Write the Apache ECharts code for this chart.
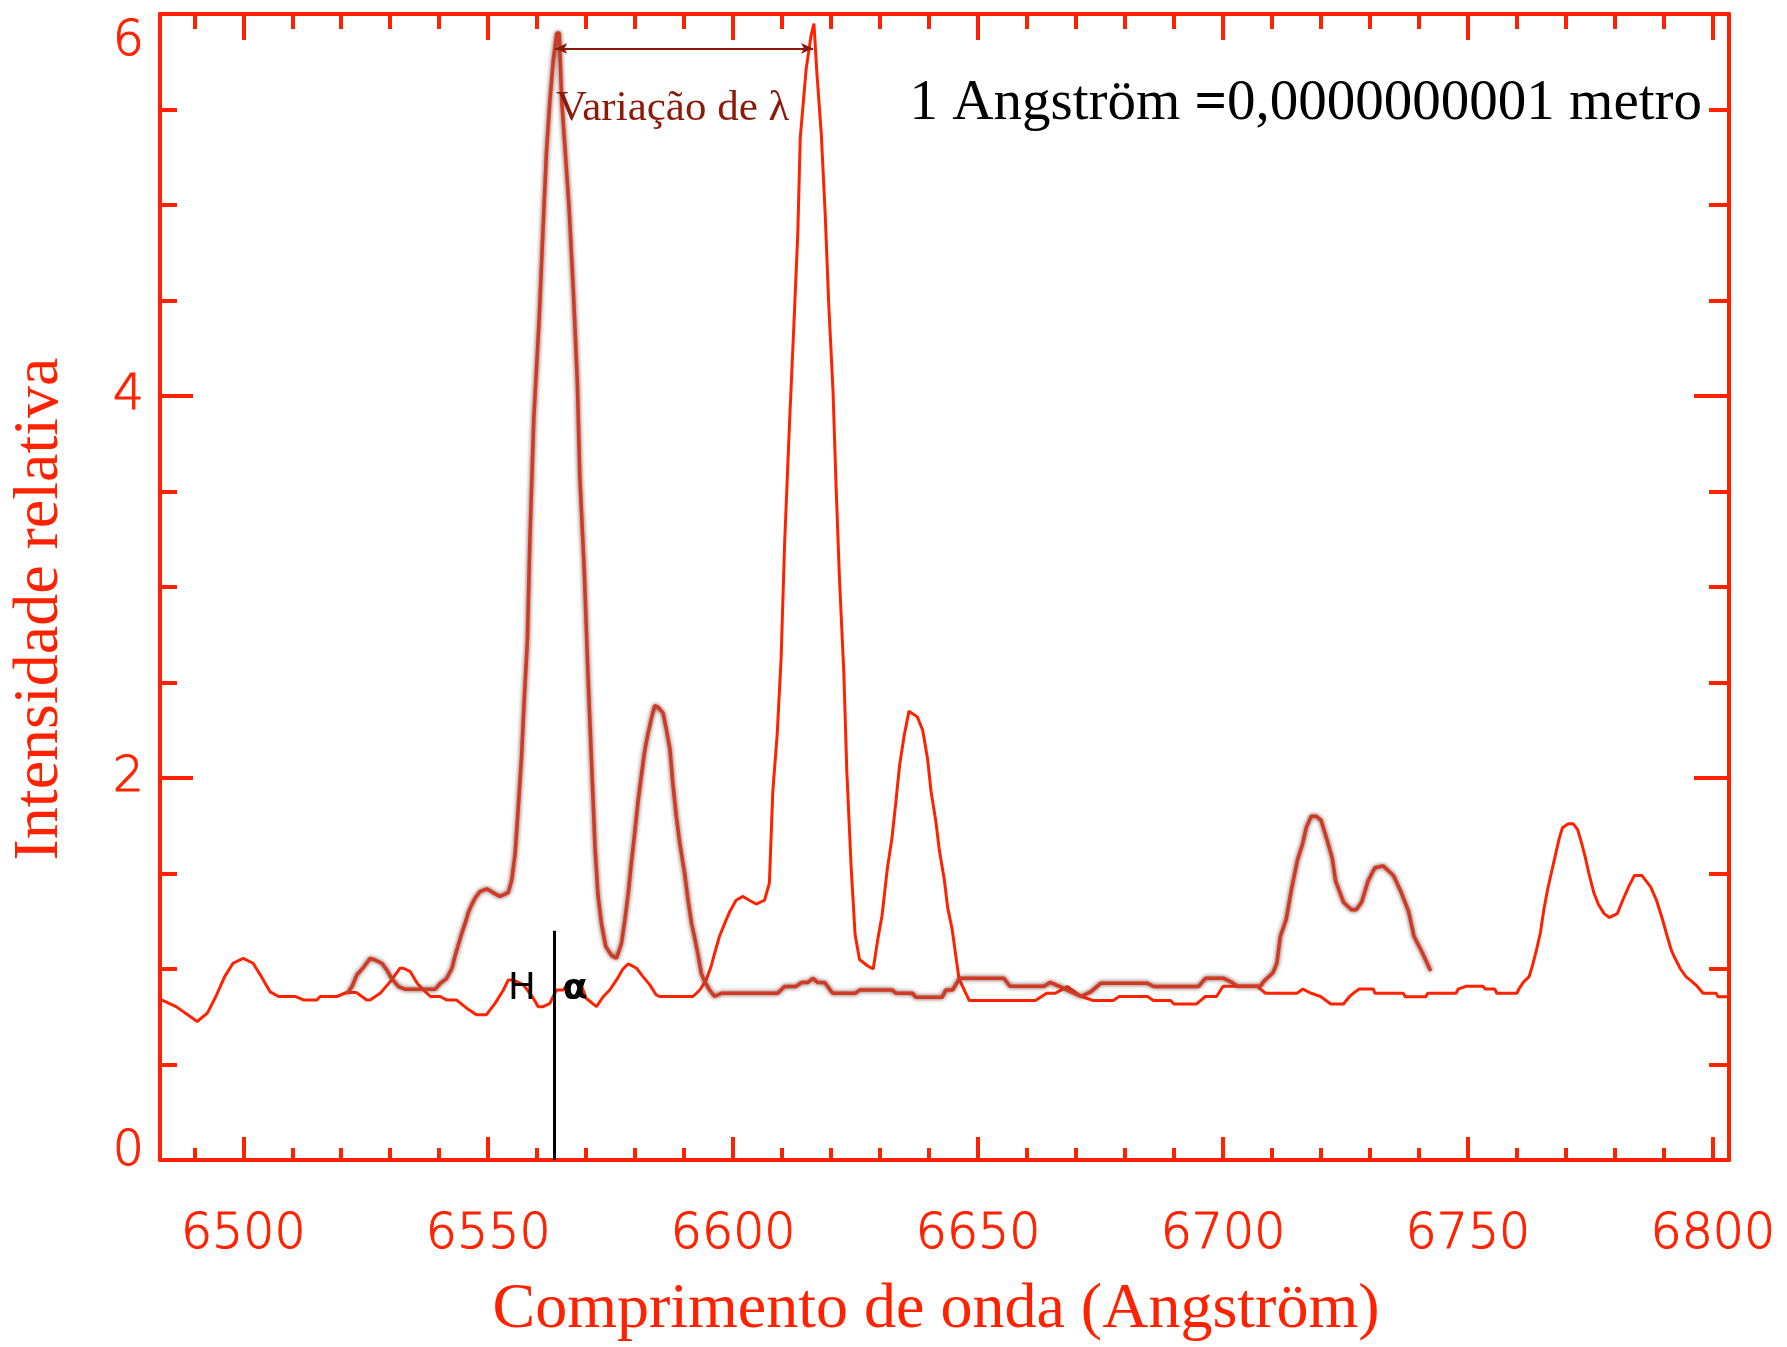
<!DOCTYPE html>
<html><head><meta charset="utf-8">
<script src="https://cdn.jsdelivr.net/npm/echarts@6/dist/echarts.min.js"></script>
<style>html,body{margin:0;padding:0;background:#fff}#c{width:1787px;height:1347px}</style>
</head><body><div id="c"></div>
<script>
// ---- data (wavelength in Angström, relative intensity) ----
const restLambda = [6521.2,6522.2,6523.2,6524.6,6525.9,6526.9,6528.3,6529.3,6530.3,6531.7,6533.0,6539.2,6540.2,6541.5,6542.6,6543.2,6543.9,6544.6,6545.3,6546.0,6546.6,6547.3,6548.3,6549.7,6551.0,6552.4,6554.1,6554.8,6555.5,6556.1,6556.8,6557.4,6558.0,6558.5,6559.3,6560.4,6561.2,6561.9,6562.6,6563.3,6564.0,6564.5,6565.0,6566.5,6567.4,6568.2,6568.7,6569.6,6570.4,6571.1,6571.8,6572.4,6573.1,6574.0,6575.2,6576.2,6576.5,6577.2,6577.9,6578.6,6579.2,6579.9,6580.6,6581.3,6582.0,6582.6,6583.3,6584.0,6584.7,6585.7,6586.4,6587.1,6587.7,6588.4,6589.1,6590.1,6590.8,6591.5,6592.1,6592.8,6593.5,6594.2,6595.2,6596.2,6597.6,6609.1,6610.5,6612.8,6613.9,6615.2,6616.3,6617.3,6618.7,6620.3,6625.0,6625.8,6632.5,6633.2,6636.6,6637.3,6642.7,6643.4,6644.8,6646.2,6655.3,6656.5,6663.5,6664.7,6666.5,6669.0,6671.0,6673.0,6675.0,6684.6,6685.8,6695.0,6696.4,6700.2,6701.8,6703.0,6707.7,6708.3,6710.2,6711.0,6711.7,6712.9,6714.0,6715.2,6716.3,6717.0,6718.0,6719.0,6720.0,6721.2,6722.3,6723.0,6724.6,6726.2,6727.2,6728.3,6729.6,6731.0,6732.7,6734.8,6736.4,6737.9,6739.0,6740.6,6742.4];
const restIntensity = [0.87,0.908,0.97,1.01,1.056,1.047,1.03,0.995,0.95,0.908,0.894,0.894,0.925,0.95,1.004,1.065,1.126,1.187,1.24,1.30,1.335,1.37,1.405,1.42,1.40,1.38,1.40,1.466,1.605,1.83,2.11,2.43,2.72,3.24,3.88,4.40,4.88,5.28,5.55,5.76,5.90,5.90,5.55,4.99,4.54,4.07,3.58,3.09,2.52,2.08,1.64,1.39,1.24,1.117,1.07,1.056,1.065,1.134,1.257,1.40,1.55,1.71,1.88,2.02,2.15,2.23,2.31,2.38,2.37,2.34,2.25,2.15,1.97,1.80,1.66,1.50,1.36,1.24,1.17,1.08,0.977,0.934,0.89,0.856,0.873,0.873,0.908,0.908,0.929,0.929,0.951,0.929,0.929,0.873,0.873,0.89,0.89,0.873,0.873,0.852,0.852,0.89,0.89,0.951,0.951,0.91,0.91,0.93,0.91,0.88,0.856,0.88,0.925,0.925,0.908,0.908,0.951,0.951,0.93,0.91,0.91,0.935,0.98,1.03,1.17,1.26,1.42,1.57,1.66,1.74,1.80,1.80,1.78,1.68,1.58,1.46,1.35,1.31,1.31,1.35,1.46,1.53,1.54,1.49,1.40,1.30,1.17,1.09,0.99];

const shiftedLambda = [6483.3,6486.3,6490.6,6492.7,6494.4,6496.2,6497.9,6500.0,6502.0,6503.7,6505.5,6507.2,6510.7,6512.3,6515.0,6515.7,6519.1,6521.1,6523.1,6525.2,6525.9,6528.0,6530.0,6532.0,6532.7,6534.1,6535.5,6536.8,6538.2,6540.2,6541.5,6543.5,6545.6,6547.6,6549.6,6551.4,6553.1,6554.1,6555.1,6557.2,6559.2,6560.2,6561.2,6562.6,6563.9,6565.3,6566.7,6568.7,6570.0,6572.1,6573.5,6574.8,6576.2,6577.5,6578.6,6580.3,6581.6,6583.0,6584.3,6585.0,6591.8,6593.2,6594.5,6595.5,6596.2,6597.2,6598.3,6599.3,6600.6,6602.0,6603.3,6604.7,6606.4,6607.4,6608.1,6609.0,6609.8,6610.5,6611.5,6612.4,6613.2,6613.7,6614.9,6615.9,6616.5,6617.1,6618.0,6618.8,6619.5,6620.4,6621.0,6621.7,6622.6,6623.2,6624.1,6624.9,6625.8,6627.5,6628.6,6629.5,6630.4,6631.5,6632.4,6633.2,6634.0,6634.9,6635.9,6637.6,6638.7,6639.7,6640.4,6641.4,6642.1,6643.1,6643.8,6644.7,6645.4,6646.1,6648.2,6661.7,6664.0,6665.8,6668.2,6671.1,6673.5,6677.6,6678.8,6684.6,6685.8,6689.3,6690.0,6694.6,6696.4,6698.7,6700.0,6706.9,6708.7,6715.1,6716.3,6718.0,6720.0,6722.0,6724.6,6725.8,6726.6,6727.8,6730.7,6731.0,6736.8,6737.2,6741.4,6741.8,6747.6,6748.0,6749.7,6753.0,6753.6,6755.5,6755.9,6760.0,6760.4,6761.3,6762.5,6763.2,6764.0,6764.8,6765.5,6766.3,6767.0,6767.8,6768.6,6769.3,6770.5,6771.5,6772.4,6773.2,6774.0,6774.7,6775.7,6776.6,6777.8,6778.9,6780.5,6781.6,6782.8,6784.0,6785.5,6787.3,6788.5,6789.6,6790.7,6791.5,6792.2,6793.4,6794.5,6795.7,6796.8,6798.0,6800.7,6801.0,6803.3];
const shiftedIntensity = [0.838,0.803,0.725,0.77,0.856,0.96,1.03,1.056,1.03,0.96,0.88,0.856,0.856,0.838,0.838,0.856,0.856,0.877,0.877,0.838,0.838,0.874,0.934,1.004,1.004,0.986,0.925,0.89,0.856,0.856,0.838,0.838,0.795,0.76,0.76,0.82,0.89,0.943,0.943,0.917,0.847,0.803,0.803,0.82,0.89,0.89,0.934,0.934,0.847,0.803,0.856,0.89,0.943,1.0,1.027,1.004,0.96,0.917,0.864,0.856,0.856,0.89,0.943,1.013,1.08,1.17,1.24,1.30,1.36,1.38,1.36,1.34,1.36,1.45,1.93,2.23,2.63,3.22,3.85,4.37,4.85,5.35,5.71,5.885,5.95,5.69,5.37,4.95,4.49,4.02,3.54,3.05,2.55,2.04,1.53,1.18,1.05,1.016,1.0,1.15,1.28,1.53,1.68,1.87,2.07,2.22,2.35,2.32,2.25,2.10,1.93,1.77,1.62,1.47,1.32,1.21,1.08,0.95,0.835,0.835,0.873,0.873,0.908,0.856,0.835,0.835,0.856,0.856,0.835,0.835,0.817,0.817,0.856,0.856,0.91,0.91,0.873,0.873,0.895,0.873,0.855,0.817,0.817,0.855,0.873,0.895,0.895,0.873,0.873,0.855,0.855,0.873,0.873,0.895,0.91,0.91,0.895,0.895,0.873,0.873,0.895,0.93,0.96,1.02,1.10,1.19,1.31,1.42,1.50,1.59,1.68,1.74,1.76,1.76,1.73,1.66,1.58,1.50,1.40,1.34,1.29,1.27,1.29,1.36,1.43,1.49,1.49,1.43,1.36,1.27,1.17,1.10,1.06,1.00,0.96,0.935,0.91,0.873,0.873,0.855,0.855];

const xMajorTicks = [6500,6550,6600,6650,6700,6750,6800];
const xMinorTicks = [6490,6510,6520,6530,6540,6560,6570,6580,6590,6610,6620,6630,6640,6660,6670,6680,6690,6710,6720,6730,6740,6760,6770,6780,6790];
const xRange = [6483, 6803.3];
const yRange = [0, 6];
const yLabelStep = 2;
const hAlphaLambda = 6563.4;
const hAlphaTop = 1.2;
const shiftFrom = 6563.7, shiftTo = 6616.3, shiftLevel = 5.82;

// ---- styling ----
const RED = '#ff2200';
const DARKRED = '#8b1a0a';
const TICKFONT = 'DejaVu Sans';
const TICKWEIGHT = 200;
const SERIF = '"Liberation Serif", "Times New Roman", serif';

function xAxisDef(position, ticks, tickLen, showLine, showLabel) {
  return {
    type: 'value', position: position, min: xRange[0], max: xRange[1],
    axisLine: { show: showLine, lineStyle: { color: RED, width: 4 } },
    axisTick: { show: true, inside: true, length: tickLen, customValues: ticks,
                lineStyle: { color: RED, width: 4 } },
    axisLabel: showLabel ? { show: true, customValues: ticks, color: RED,
                fontFamily: TICKFONT, fontWeight: TICKWEIGHT, fontSize: 49, margin: 51,
                textBorderColor: RED, textBorderWidth: 1,
                formatter: v => String(v) } : { show: false },
    splitLine: { show: false }
  };
}
function yAxisDef(position, majorLen, minorLen, showLabel) {
  const rs = { color: RED, fontFamily: TICKFONT, fontWeight: TICKWEIGHT, fontSize: 49,
               textBorderColor: RED, textBorderWidth: 1 };
  return {
    type: 'value', position: position, min: yRange[0], max: yRange[1], interval: yLabelStep,
    axisLine: { show: true, lineStyle: { color: RED, width: 4 } },
    axisTick: { show: true, inside: true, length: majorLen, lineStyle: { color: RED, width: 4 } },
    minorTick: { show: true, splitNumber: 4, length: minorLen, lineStyle: { color: RED, width: 4 } },
    axisLabel: showLabel ? {
      show: true, margin: 16, color: RED, fontFamily: TICKFONT, fontWeight: TICKWEIGHT, fontSize: 49,
      textBorderColor: RED, textBorderWidth: 1,
      formatter: v => v === yRange[1] ? '{t|' + v + '}' : (v === yRange[0] ? '{b|' + v + '}' : '{n|' + v + '}'),
      rich: {
        t: Object.assign({ padding: [56, 0, 0, 0] }, rs),
        b: Object.assign({ padding: [0, 0, 15, 0] }, rs),
        n: Object.assign({}, rs)
      }
    } : { show: false },
    splitLine: { show: false },
    minorSplitLine: { show: false }
  };
}

const chart = echarts.init(document.getElementById('c'), null, { renderer: 'canvas' });
const xAxes = [
  xAxisDef('bottom', xMajorTicks, 23, true, true),
  xAxisDef('bottom', xMinorTicks, 12, false, false),
  xAxisDef('top', xMajorTicks, 26, true, false),
  xAxisDef('top', xMinorTicks, 15, false, false)
];
xAxes[0].name = 'Comprimento de onda (Angström)';
xAxes[0].nameLocation = 'middle';
xAxes[0].nameGap = 150;
xAxes[0].nameTextStyle = { color: RED, fontFamily: SERIF, fontSize: 64, verticalAlign: 'middle', padding: [0, 17, 0, 0] };

const yAxes = [ yAxisDef('left', 33, 17, true), yAxisDef('right', 35, 20, false) ];
yAxes[0].name = 'Intensidade relativa';
yAxes[0].nameLocation = 'middle';
yAxes[0].nameGap = 120;
yAxes[0].nameTextStyle = { color: RED, fontFamily: SERIF, fontSize: 64, verticalAlign: 'middle', padding: [0, 44, 0, 0] };

const option = {
  animation: false,
  backgroundColor: '#ffffff',
  grid: { left: 156, top: 14, width: 1573, height: 1150, containLabel: false },
  xAxis: xAxes,
  yAxis: yAxes,
  series: [
    {
      name: 'deslocado', type: 'line', xAxisIndex: 0, yAxisIndex: 0,
      data: shiftedLambda.map((x, i) => [x, shiftedIntensity[i]]),
      showSymbol: false, smooth: false, z: 3,
      lineStyle: { color: RED, width: 3 }
    },
    {
      name: 'repouso', type: 'line', xAxisIndex: 0, yAxisIndex: 0,
      data: restLambda.map((x, i) => [x, restIntensity[i]]),
      showSymbol: false, smooth: false, z: 4,
      lineStyle: { color: '#d03a22', width: 3.5, shadowColor: 'rgba(110,70,65,1)', shadowBlur: 4 },
      markLine: {
        silent: true, animation: false, symbol: ['none', 'none'],
        label: { show: false },
        data: [
          [ { coord: [hAlphaLambda, yRange[0]], lineStyle: { color: '#000', width: 3, type: 'solid' } },
            { coord: [hAlphaLambda, hAlphaTop] } ],
          [ { coord: [shiftFrom, shiftLevel], symbol: 'arrow', symbolSize: [8, 12],
              lineStyle: { color: DARKRED, width: 2, type: 'solid' } },
            { coord: [shiftTo, shiftLevel], symbol: 'arrow', symbolSize: [8, 12] } ]
        ]
      }
    }
  ],
  graphic: [
    { type: 'text', x: 556, y: 109, z: 10,
      style: { text: 'Variação de λ', fill: DARKRED, font: '43px ' + SERIF, textAlign: 'left', textVerticalAlign: 'middle' } },
    { type: 'text', x: 1702, y: 104, z: 10,
      style: { text: '1 Angström {b|=}0,0000000001 metro', fill: '#000', font: '57px ' + SERIF,
               textAlign: 'right', textVerticalAlign: 'middle',
               rich: { b: { fontFamily: SERIF, fontSize: 57, fontWeight: 'bold', fill: '#000' } } } },
    { type: 'text', x: 522, y: 989, z: 10,
      style: { text: 'H', fill: '#000', font: '37px "DejaVu Sans"', textAlign: 'center', textVerticalAlign: 'middle' } },
    { type: 'text', x: 575, y: 990, z: 10,
      style: { text: 'α', fill: '#000', font: 'bold 36px "DejaVu Sans"', textAlign: 'center', textVerticalAlign: 'middle' } }
  ]
};
chart.setOption(option);
</script>
</body></html>
